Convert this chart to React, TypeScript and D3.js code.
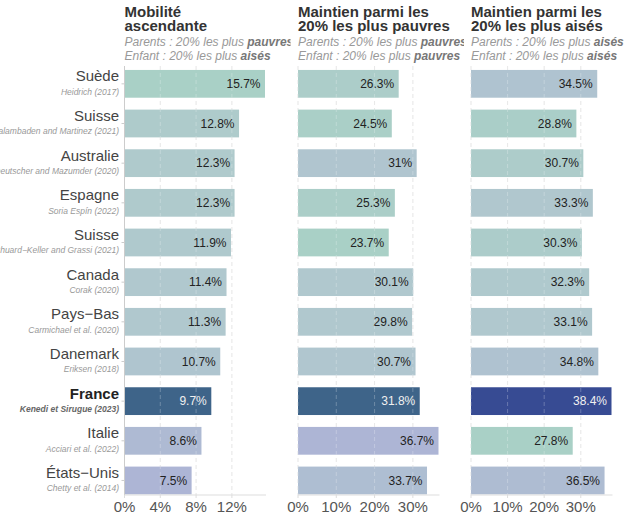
import React from "react";
import * as d3 from "d3";

const countries = ["Suède", "Suisse", "Australie", "Espagne", "Suisse", "Canada", "Pays−Bas", "Danemark", "France", "Italie", "États−Unis"];
const sources = ["Heidrich (2017)", "Kalambaden and Martinez (2021)", "Deutscher and Mazumder (2020)", "Soria Espín (2022)", "Chuard−Keller and Grassi (2021)", "Corak (2020)", "Carmichael et al. (2020)", "Eriksen (2018)", "Kenedi et Sirugue (2023)", "Acciari et al. (2022)", "Chetty et al. (2014)"];
const upward = [15.7, 12.8, 12.3, 12.3, 11.9, 11.4, 11.3, 10.7, 9.7, 8.6, 7.5];
const stayPoor = [26.3, 24.5, 31, 25.3, 23.7, 30.1, 29.8, 30.7, 31.8, 36.7, 33.7];
const stayRich = [34.5, 28.8, 30.7, 33.3, 30.3, 32.3, 33.1, 34.8, 38.4, 27.8, 36.5];
const titles1 = ["Mobilité", "Maintien parmi les", "Maintien parmi les"];
const titles2 = ["ascendante", "20% les plus pauvres", "20% les plus aisés"];
const parentsWord = ["pauvres", "pauvres", "aisés"];
const childWord = ["aisés", "pauvres", "aisés"];
const tickVals = [[0, 4, 8, 12], [0, 10, 20, 30], [0, 10, 20, 30]];
const higherIsBetter = [true, false, false];
const highlight = "France";

const FONT = "'Liberation Sans', Arial, Helvetica, sans-serif";
const TEAL = "#a9d0c6";
const MID = "#b0c8ce";
const LAV = "#adb5d5";
const FR = "#3e6489";
const FR_MAX = "#374b93";

export default function App() {
  const W = 638, H = 518;
  const panelX = [124.5, 298, 471];
  const panelW = 140.5;
  const top = 66, bottom = 495;
  const y = d3.scaleBand<number>().domain(d3.range(countries.length)).range([64, 500.3]).paddingInner(0.3).paddingOuter(0.15);
  const series = [upward, stayPoor, stayRich];

  return (
    <svg width={W} height={H} style={{ position: "absolute", left: 0, top: 0, background: "#fff" }} fontFamily={FONT}>
      <defs>
        {panelX.map((x0, p) => (
          <clipPath id={`strip${p}`} key={p}>
            <rect x={x0 - 2} y={0} width={168} height={66} />
          </clipPath>
        ))}
      </defs>
      {/* y labels */}
      {countries.map((c, i) => {
        const cy = (y(i) as number) + y.bandwidth() / 2;
        const isH = c === highlight;
        return (
          <g key={i}>
            <text x={119} y={cy - 2.5} textAnchor="end" fontSize={15} fill={isH ? "#222" : "#444"} fontWeight={isH ? "bold" : "normal"}>{c}</text>
            <text x={119} y={cy + 11} textAnchor="end" fontSize={8.5} fontStyle="italic" fill={isH ? "#666" : "#999"} fontWeight={isH ? "bold" : "normal"}>{sources[i]}</text>
            <line x1={121.5} x2={124.5} y1={cy} y2={cy} stroke="#ccc" />
          </g>
        );
      })}
      {series.map((vals, p) => {
        const x0 = panelX[p];
        const x = d3.scaleLinear().domain([0, d3.max(vals) as number]).range([x0, x0 + panelW]);
        const sorted = [...vals].sort(d3.ascending);
        const med = d3.median(vals) as number;
        const col = d3.scaleLinear<string>()
          .domain([sorted[0], med, sorted[sorted.length - 1]])
          .range(higherIsBetter[p] ? [LAV, MID, TEAL] : [TEAL, MID, LAV])
          .interpolate(d3.interpolateRgb)
          .clamp(true);
        const maxV = d3.max(vals);
        return (
          <g key={p}>
            <g clipPath={`url(#strip${p})`}>
              <text x={x0} y={17} fontSize={15} fontWeight="bold" fill="#333">{titles1[p]}</text>
              <text x={x0} y={31} fontSize={15} fontWeight="bold" fill="#333">{titles2[p]}</text>
              <text x={x0} y={46} fontSize={12} fontStyle="italic" fill="#999">Parents : 20% les plus <tspan fontWeight="bold" fill="#777">{parentsWord[p]}</tspan></text>
              <text x={x0} y={60} fontSize={12} fontStyle="italic" fill="#999">Enfant : 20% les plus <tspan fontWeight="bold" fill="#777">{childWord[p]}</tspan></text>
            </g>
            {tickVals[p].map((t) => (
              <line key={"g" + t} x1={x(t)} x2={x(t)} y1={top} y2={bottom} stroke="#e2e2e2" strokeDasharray="4,3" />
            ))}
            {vals.map((v, i) => {
              const isH = countries[i] === highlight;
              const fill = isH ? (v === maxV ? FR_MAX : FR) : col(v);
              const by = y(i) as number;
              return (
                <g key={i}>
                  <rect x={x(0)} y={by} width={x(v) - x(0)} height={y.bandwidth()} fill={fill} />
                  <text x={x(v) - 4.5} y={by + y.bandwidth() / 2 + 4.3} textAnchor="end" fontSize={12} fill={isH ? "#f0f0f0" : "#222"}>{`${v}%`}</text>
                </g>
              );
            })}
            {tickVals[p].map((t) => (
              <line key={"o" + t} x1={x(t)} x2={x(t)} y1={top} y2={bottom} stroke="#ffffff" strokeOpacity={0.25} strokeDasharray="4,3" />
            ))}
            {p === 0 && <line x1={x0} x2={x0} y1={top} y2={bottom} stroke="#ccc" />}
            <line x1={x0} x2={x0 + panelW + 1} y1={bottom} y2={bottom} stroke="#ddd" />
            {tickVals[p].map((t) => (
              <g key={"t" + t}>
                <line x1={x(t)} x2={x(t)} y1={bottom} y2={bottom + 3} stroke="#ddd" />
                <text x={x(t)} y={512} textAnchor="middle" fontSize={15} fill="#555">{`${t}%`}</text>
              </g>
            ))}
          </g>
        );
      })}
    </svg>
  );
}
